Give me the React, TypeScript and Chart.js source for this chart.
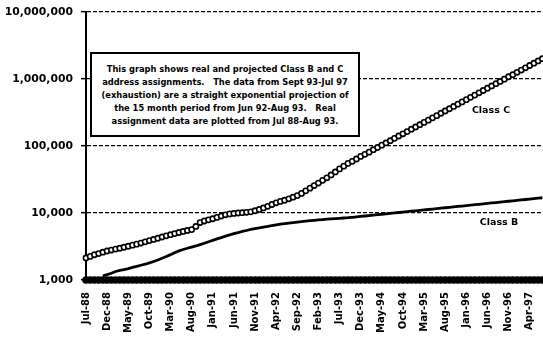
import React, { useEffect, useRef } from "react";
import { Chart, registerables } from "chart.js";

Chart.register(...registerables);

// Monthly categories, Jul 1988 through Jul 1997
const months = [
  "Jul-88", "Aug-88", "Sep-88", "Oct-88", "Nov-88", "Dec-88",
  "Jan-89", "Feb-89", "Mar-89", "Apr-89", "May-89", "Jun-89", "Jul-89", "Aug-89", "Sep-89", "Oct-89", "Nov-89", "Dec-89",
  "Jan-90", "Feb-90", "Mar-90", "Apr-90", "May-90", "Jun-90", "Jul-90", "Aug-90", "Sep-90", "Oct-90", "Nov-90", "Dec-90",
  "Jan-91", "Feb-91", "Mar-91", "Apr-91", "May-91", "Jun-91", "Jul-91", "Aug-91", "Sep-91", "Oct-91", "Nov-91", "Dec-91",
  "Jan-92", "Feb-92", "Mar-92", "Apr-92", "May-92", "Jun-92", "Jul-92", "Aug-92", "Sep-92", "Oct-92", "Nov-92", "Dec-92",
  "Jan-93", "Feb-93", "Mar-93", "Apr-93", "May-93", "Jun-93", "Jul-93", "Aug-93", "Sep-93", "Oct-93", "Nov-93", "Dec-93",
  "Jan-94", "Feb-94", "Mar-94", "Apr-94", "May-94", "Jun-94", "Jul-94", "Aug-94", "Sep-94", "Oct-94", "Nov-94", "Dec-94",
  "Jan-95", "Feb-95", "Mar-95", "Apr-95", "May-95", "Jun-95", "Jul-95", "Aug-95", "Sep-95", "Oct-95", "Nov-95", "Dec-95",
  "Jan-96", "Feb-96", "Mar-96", "Apr-96", "May-96", "Jun-96", "Jul-96", "Aug-96", "Sep-96", "Oct-96", "Nov-96", "Dec-96",
  "Jan-97", "Feb-97", "Mar-97", "Apr-97", "May-97", "Jun-97", "Jul-97",
];

// Class C assignments (real data to Aug-93, projection afterwards)
const classC = [
  2130, 2250, 2380, 2480, 2600, 2710,
  2800, 2890, 2980, 3080, 3190, 3310, 3430, 3560, 3710, 3870, 4030, 4200,
  4380, 4560, 4740, 4930, 5120, 5300, 5480, 5650, 6300, 7200, 7600, 7900,
  8200, 8600, 9000, 9400, 9700, 9850, 10000, 10100, 10250, 10400, 10800, 11300,
  11900, 12600, 13400, 14200, 14900, 15500, 16300, 17200, 18200, 19600, 21400, 23500,
  25700, 28000, 30700, 33500, 37000, 41000, 45500, 50000, 55000, 59000, 64000, 70000,
  75000, 81000, 88000, 95000, 103000, 111000, 120000, 130000, 141000, 152000, 164000, 178000,
  192000, 208000, 225000, 243000, 263000, 284000, 308000, 333000, 360000, 389000, 421000, 455000,
  492000, 532000, 575000, 622000, 673000, 728000, 787000, 851000, 920000, 995000, 1080000, 1160000,
  1260000, 1360000, 1470000, 1590000, 1720000, 1860000, 2010000,
];

// Class B assignments (no points before Nov-88)
const classB = [
  null, null, null, null, 1150, 1200,
  1260, 1340, 1390, 1430, 1480, 1540, 1600, 1660, 1720, 1800, 1890, 1990,
  2110, 2240, 2390, 2560, 2720, 2850, 2980, 3100, 3220, 3380, 3540, 3720,
  3900, 4100, 4300, 4520, 4720, 4920, 5100, 5300, 5480, 5680, 5850, 6000,
  6150, 6300, 6480, 6650, 6800, 6950, 7080, 7200, 7330, 7450, 7560, 7670,
  7780, 7880, 7980, 8080, 8170, 8260, 8340, 8420, 8500, 8630, 8760, 8890,
  9020, 9160, 9300, 9440, 9580, 9720, 9870, 10020, 10170, 10320, 10470, 10630,
  10790, 10950, 11120, 11280, 11450, 11630, 11800, 11980, 12160, 12340, 12530, 12710,
  12900, 13100, 13290, 13490, 13700, 13900, 14110, 14320, 14540, 14760, 14980, 15200,
  15430, 15660, 15900, 16140, 16380, 16630, 16880,
];

// Class A series sits on the axis floor
const classA = [
  1000, 1000, 1000, 1000, 1000, 1000,
  1000, 1000, 1000, 1000, 1000, 1000, 1000, 1000, 1000, 1000, 1000, 1000,
  1000, 1000, 1000, 1000, 1000, 1000, 1000, 1000, 1000, 1000, 1000, 1000,
  1000, 1000, 1000, 1000, 1000, 1000, 1000, 1000, 1000, 1000, 1000, 1000,
  1000, 1000, 1000, 1000, 1000, 1000, 1000, 1000, 1000, 1000, 1000, 1000,
  1000, 1000, 1000, 1000, 1000, 1000, 1000, 1000, 1000, 1000, 1000, 1000,
  1000, 1000, 1000, 1000, 1000, 1000, 1000, 1000, 1000, 1000, 1000, 1000,
  1000, 1000, 1000, 1000, 1000, 1000, 1000, 1000, 1000, 1000, 1000, 1000,
  1000, 1000, 1000, 1000, 1000, 1000, 1000, 1000, 1000, 1000, 1000, 1000,
  1000, 1000, 1000, 1000, 1000, 1000, 1000,
];

const yTicks = [1000, 10000, 100000, 1000000, 10000000];

const noteLines = [
  "This graph shows real and projected Class B and C",
  "address assignments.   The data from Sept 93-Jul 97",
  "(exhaustion) are a straight exponential projection of",
  "the 15 month period from Jun 92-Aug 93.   Real",
  "assignment data are plotted from Jul 88-Aug 93.",
];

const FONT = "'DejaVu Sans', sans-serif";

export default function App() {
  const canvasRef = useRef<HTMLCanvasElement>(null);

  useEffect(() => {
    const canvas = canvasRef.current;
    if (!canvas) return;
    const chart = new Chart(canvas, {
      type: "line",
      data: {
        labels: months,
        datasets: [
          {
            label: "Class A",
            data: classA,
            borderColor: "#000",
            borderWidth: 3,
            pointStyle: "circle",
            pointRadius: 3.8,
            pointBackgroundColor: "#000",
            pointBorderWidth: 0,
            clip: false,
          },
          {
            label: "Class B",
            data: classB,
            borderColor: "#000",
            borderWidth: 2.8,
            pointRadius: 0,
            tension: 0,
            clip: false,
          },
          {
            label: "Class C",
            data: classC,
            borderColor: "#000",
            borderWidth: 1.5,
            pointStyle: "circle",
            pointRadius: 2.6,
            pointBorderWidth: 1.6,
            pointBorderColor: "#000",
            pointBackgroundColor: "#fff",
            tension: 0,
            clip: false,
          },
        ],
      },
      options: {
        responsive: false,
        animation: false,
        devicePixelRatio: 1,
        layout: { padding: { top: 12, left: 0, right: 0, bottom: 0 } },
        plugins: {
          legend: { display: false },
          tooltip: { enabled: false },
          title: { display: false },
        },
        scales: {
          x: {
            type: "category",
            offset: false,
            grid: { display: false, drawTicks: false },
            border: { display: true, color: "#000", width: 2 },
            ticks: {
              autoSkip: false,
              maxRotation: 90,
              minRotation: 90,
              padding: 12,
              color: "#000",
              font: { family: FONT, size: 10, weight: "bold" },
              callback: (_v: any, i: number) => (i % 5 === 0 ? months[i] : ""),
            },
            afterFit: (scale: any) => {
              scale.height = 57;
              scale.paddingLeft = 0;
              scale.paddingRight = 0;
            },
          },
          y: {
            type: "logarithmic",
            min: 1000,
            max: 10000000,
            border: { display: true, color: "#000", width: 2, dash: [4, 2] },
            grid: {
              color: "#000",
              lineWidth: 1.3,
              tickLength: 5,
              tickColor: "#000",
              tickWidth: 1.5,
            },
            ticks: {
              padding: 8,
              color: "#000",
              font: { family: FONT, size: 10.8, weight: "bold" },
              callback: (v: any) => Number(v).toLocaleString("en-US"),
            },
            afterBuildTicks: (scale: any) => {
              scale.ticks = yTicks.map((v) => ({ value: v }));
            },
            afterFit: (scale: any) => {
              scale.width = 86;
              scale.paddingTop = 0;
              scale.paddingBottom = 0;
            },
          },
        },
      },
    } as any);
    return () => chart.destroy();
  }, []);

  return (
    <div
      style={{
        position: "absolute",
        left: 0,
        top: 0,
        width: 543,
        height: 337,
        background: "#fff",
        overflow: "hidden",
      }}
    >
      {/* the canvas runs slightly past the frame so the plot reaches its right edge */}
      <canvas ref={canvasRef} width={548} height={337} style={{ display: "block" }} />
      <div
        style={{
          position: "absolute",
          left: 90,
          top: 52,
          width: 266,
          height: 72,
          border: "2px solid #000",
          background: "#fff",
          fontFamily: FONT,
          fontWeight: "bold",
          fontSize: 8.3,
          lineHeight: "13px",
          textAlign: "center",
          whiteSpace: "pre",
          paddingTop: 9,
          boxSizing: "content-box",
          color: "#000",
        }}
      >
        {noteLines.map((t, i) => (
          <div key={i}>{t}</div>
        ))}
      </div>
      <div
        style={{
          position: "absolute",
          left: 461,
          top: 103,
          width: 60,
          textAlign: "center",
          fontFamily: FONT,
          fontWeight: "bold",
          fontSize: 9.5,
          lineHeight: "14px",
          color: "#000",
        }}
      >
        Class C
      </div>
      <div
        style={{
          position: "absolute",
          left: 469,
          top: 215,
          width: 60,
          textAlign: "center",
          fontFamily: FONT,
          fontWeight: "bold",
          fontSize: 9.5,
          lineHeight: "14px",
          color: "#000",
        }}
      >
        Class B
      </div>
    </div>
  );
}
